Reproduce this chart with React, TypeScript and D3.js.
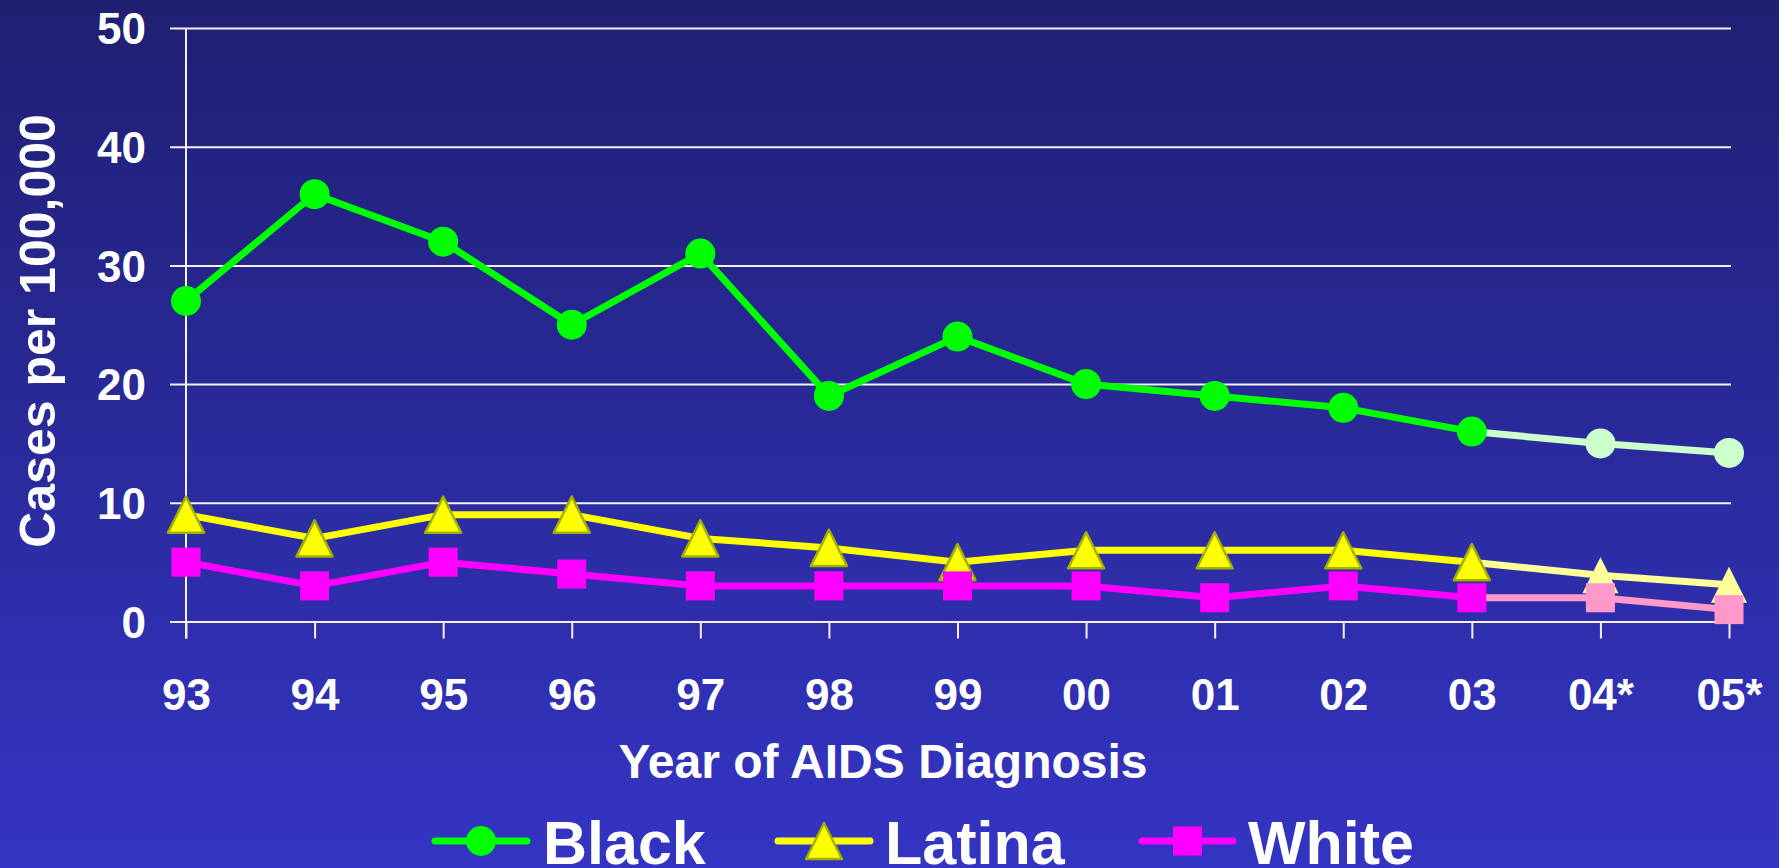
import React, { useEffect, useRef } from "react";
import * as d3 from "d3";

// data
const years = ["93", "94", "95", "96", "97", "98", "99", "00", "01", "02", "03", "04*", "05*"];
const black = [27, 36, 32, 25, 31, 19, 24, 20, 19, 18, 16, 15, 14.2];
const latina = [9, 7, 9, 9, 7, 6.2, 5, 6, 6, 6, 5, 3.9, 3.1];
const white = [5, 3, 5, 4, 3, 3, 3, 3, 2, 3, 2, 2, 1];
const yTicks = [0, 10, 20, 30, 40, 50];
const firstEstimate = 11; // 04* and 05* are estimates, drawn pale

const seriesList = [
  { name: "Black", values: black, color: "#00ff00", pale: "#ccffcc", shape: "circle" },
  { name: "Latina", values: latina, color: "#ffff00", pale: "#ffff99", shape: "triangle" },
  { name: "White", values: white, color: "#ff00ff", pale: "#ff99cc", shape: "square" },
];

const W = 1779;
const H = 868;
const FONT = "'Liberation Sans', Arial, sans-serif";

const App = () => {
  const ref = useRef<SVGSVGElement>(null);

  useEffect(() => {
    const svg = d3.select(ref.current);
    svg.selectAll("*").remove();

    // background gradient
    const defs = svg.append("defs");
    const grad = defs.append("linearGradient")
      .attr("id", "bg")
      .attr("x1", 0).attr("y1", 0).attr("x2", 0).attr("y2", 1);
    grad.append("stop").attr("offset", "0%").attr("stop-color", "#1f1f72");
    grad.append("stop").attr("offset", "100%").attr("stop-color", "#3434c4");
    svg.append("rect").attr("width", W).attr("height", H).attr("fill", "url(#bg)");

    const x = d3.scalePoint().domain(years).range([186, 1729]);
    const y = d3.scaleLinear().domain([0, 50]).range([621.5, 28]);

    // gridlines + y axis
    const yAxis = svg.append("g").attr("transform", "translate(186,0)")
      .call(d3.axisLeft(y).tickValues(yTicks).tickSize(16).tickPadding(24).tickFormat(d3.format("d")));
    yAxis.select(".domain").remove();
    yAxis.selectAll(".tick line").attr("stroke", "#f2f2f2").attr("stroke-width", 2)
      .attr("x1", 1729 - 186 + 2);
    yAxis.selectAll(".tick text")
      .attr("fill", "#ffffff").attr("font-family", FONT).attr("font-weight", "bold")
      .attr("font-size", 44).attr("dy", "0.36em");

    // x axis
    const xAxis = svg.append("g").attr("transform", `translate(0,${y(0)})`)
      .call(d3.axisBottom(x).tickSize(17).tickPadding(40));
    xAxis.select(".domain").remove();
    xAxis.selectAll(".tick line").attr("stroke", "#f2f2f2").attr("stroke-width", 2);
    xAxis.selectAll(".tick text")
      .attr("fill", "#ffffff").attr("font-family", FONT).attr("font-weight", "bold")
      .attr("font-size", 44);

    // vertical axis line
    svg.append("line")
      .attr("x1", x("93")).attr("x2", x("93"))
      .attr("y1", y(50)).attr("y2", y(0) + 17)
      .attr("stroke", "#f2f2f2").attr("stroke-width", 2);

    // axis titles
    svg.append("text")
      .attr("transform", `translate(55,331) rotate(-90)`)
      .attr("text-anchor", "middle")
      .attr("fill", "#ffffff").attr("font-family", FONT).attr("font-weight", "bold")
      .attr("font-size", 50)
      .text("Cases per 100,000");

    svg.append("text")
      .attr("x", 883).attr("y", 778)
      .attr("text-anchor", "middle")
      .attr("fill", "#ffffff").attr("font-family", FONT).attr("font-weight", "bold")
      .attr("font-size", 48)
      .text("Year of AIDS Diagnosis");

    const drawMarker = (g, shape, cx, cy, fill, stroke) => {
      if (shape === "circle") {
        g.append("circle").attr("cx", cx).attr("cy", cy).attr("r", 15).attr("fill", fill);
      } else if (shape === "triangle") {
        const s = 18;
        g.append("path")
          .attr("d", `M${cx},${cy - s}L${cx + s},${cy + s}L${cx - s},${cy + s}Z`)
          .attr("fill", fill)
          .attr("stroke", stroke || "none").attr("stroke-width", 2.5)
          .attr("stroke-linejoin", "round");
      } else {
        g.append("rect").attr("x", cx - 14.5).attr("y", cy - 14.5)
          .attr("width", 29).attr("height", 29).attr("fill", fill);
      }
    };

    // series
    seriesList.forEach((s) => {
      const g = svg.append("g");
      const pts = s.values.map((v, i) => [x(years[i]), y(v)]);
      for (let i = 0; i < pts.length - 1; i++) {
        g.append("path")
          .attr("d", d3.line()([pts[i], pts[i + 1]]))
          .attr("stroke", i + 1 >= firstEstimate ? s.pale : s.color)
          .attr("stroke-width", 7)
          .attr("fill", "none");
      }
      pts.forEach(([px, py], i) => {
        const pale = i >= firstEstimate;
        drawMarker(g, s.shape, px, py, pale ? s.pale : s.color,
          !pale && s.shape === "triangle" ? "#a0b000" : null);
      });
    });

    // legend
    const legendPos = [
      { x1: 435, x2: 527, tx: 543 },
      { x1: 778, x2: 870, tx: 885 },
      { x1: 1142, x2: 1233, tx: 1248 },
    ];
    seriesList.forEach((s, i) => {
      const p = legendPos[i];
      const g = svg.append("g");
      g.append("line")
        .attr("x1", p.x1).attr("x2", p.x2).attr("y1", 841).attr("y2", 841)
        .attr("stroke", s.color).attr("stroke-width", 7).attr("stroke-linecap", "round");
      drawMarker(g, s.shape, (p.x1 + p.x2) / 2, 841, s.color, s.shape === "triangle" ? "#a0b000" : null);
      g.append("text")
        .attr("x", p.tx).attr("y", 864)
        .attr("fill", "#ffffff").attr("font-family", FONT).attr("font-weight", "bold")
        .attr("font-size", 61)
        .text(s.name);
    });
  }, []);

  return (
    <svg
      ref={ref}
      width={W}
      height={H}
      style={{ position: "absolute", left: 0, top: 0, display: "block" }}
    />
  );
};

export default App;
